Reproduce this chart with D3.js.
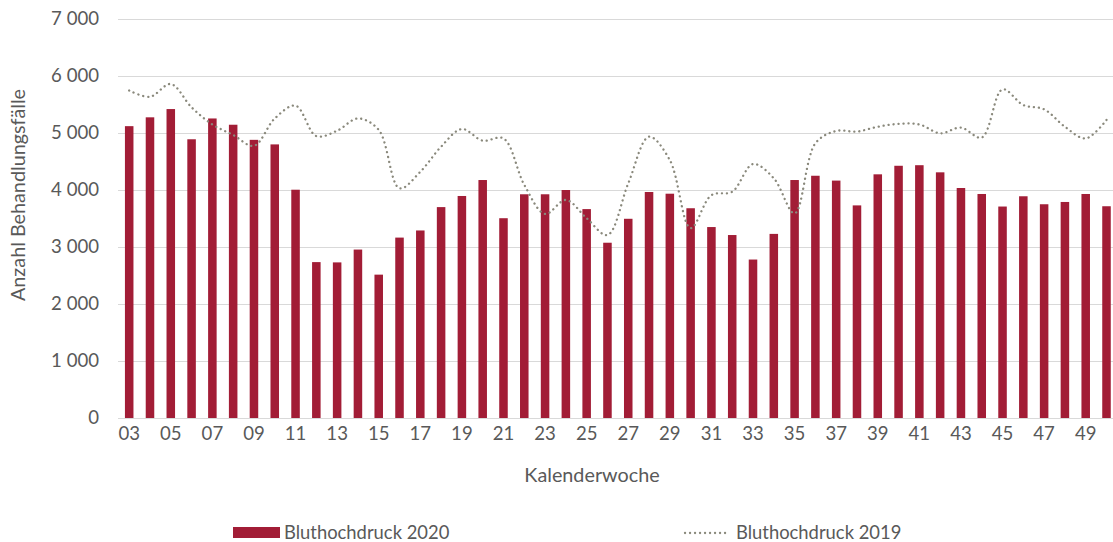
<!DOCTYPE html>
<html>
<head>
<meta charset="utf-8">
<script src="https://cdn.jsdelivr.net/npm/d3@7"></script>
<style>
  body { margin: 0; background: #fff; }
  svg { display: block; }
</style>
</head>
<body>
<svg></svg>
<script>
// Behandlungsfälle Bluthochdruck je Kalenderwoche
var weeks = ["03","04","05","06","07","08","09","10","11","12","13","14","15","16","17","18","19","20","21","22","23","24","25","26",
             "27","28","29","30","31","32","33","34","35","36","37","38","39","40","41","42","43","44","45","46","47","48","49","50"];

var cases2020 = [5120, 5275, 5420, 4890, 5255, 5145, 4880, 4800, 4005, 2735, 2730, 2955, 2515, 3165, 3290, 3700, 3895, 4175, 3505, 3925, 3925, 4000, 3665, 3075,
                 3495, 3965, 3935, 3680, 3350, 3210, 2780, 3230, 4175, 4250, 4165, 3730, 4275, 4425, 4435, 4310, 4035, 3930, 3710, 3890, 3750, 3790, 3930, 3715];

var cases2019 = [5745, 5635, 5860, 5450, 5150, 4965, 4775, 5255, 5480, 4945, 5040, 5255, 5055, 4030, 4320, 4760, 5070, 4865, 4905, 4090, 3580, 3825, 3505, 3210,
                 4115, 4935, 4525, 3330, 3910, 3970, 4455, 4205, 3590, 4820, 5035, 5025, 5110, 5160, 5150, 4995, 5095, 4920, 5765, 5490, 5415, 5110, 4905, 5230];

var yTicks = [0, 1000, 2000, 3000, 4000, 5000, 6000, 7000];
var seriesNames = ["Bluthochdruck 2020", "Bluthochdruck 2019"];

var width = 1113,
    height = 542;
var barColor = "#a21d36",
    lineColor = "#8a897c",
    textColor = "#595959",
    font = "Lato, 'Open Sans', sans-serif";

var svg = d3.select("svg")
    .attr("width", width)
    .attr("height", height);

var x = d3.scaleBand()
    .domain(weeks)
    .range([118.8, 1116.9])
    .paddingInner(0.59)
    .paddingOuter(0.295);

var y = d3.scaleLinear()
    .domain([0, 7000])
    .range([418, 19]);

var fmt = function(v) { return d3.format(",")(v).replace(/,/g, " "); };

// gridlines
svg.append("g")
    .selectAll("line")
    .data(yTicks)
    .enter()
    .append("line")
    .attr("x1", 118)
    .attr("x2", width)
    .attr("y1", d => y(d) + 0.5)
    .attr("y2", d => y(d) + 0.5)
    .attr("stroke", "#d9d9d9")
    .attr("stroke-width", 1);

// y axis labels
var yAxis = svg.append("g")
    .attr("transform", "translate(99,0)")
    .call(d3.axisLeft(y).tickValues(yTicks).tickFormat(fmt).tickSize(0).tickPadding(0));
yAxis.select(".domain").remove();
yAxis.selectAll("text")
    .attr("fill", textColor)
    .attr("font-family", font)
    .attr("font-size", 18.6);

// bars
svg.append("g")
    .selectAll("rect")
    .data(cases2020)
    .enter()
    .append("rect")
    .attr("x", (d, i) => x(weeks[i]))
    .attr("width", x.bandwidth())
    .attr("y", d => y(d))
    .attr("height", d => y(0) - y(d))
    .attr("fill", barColor);

// 2019 line (smoothed, dotted)
var line = d3.line()
    .curve(d3.curveCatmullRom)
    .x((d, i) => x(weeks[i]) + x.bandwidth() / 2)
    .y(d => y(d));

svg.append("path")
    .attr("d", line(cases2019))
    .attr("fill", "none")
    .attr("stroke", lineColor)
    .attr("stroke-width", 2.3)
    .attr("stroke-linecap", "round")
    .attr("stroke-dasharray", "0.1,4.9");

// x axis labels, every other week
var xAxis = svg.append("g")
    .attr("transform", "translate(0,418)")
    .call(d3.axisBottom(x).tickValues(weeks.filter((w, i) => i % 2 === 0)).tickSize(0).tickPadding(9));
xAxis.select(".domain").remove();
xAxis.selectAll("text")
    .attr("fill", textColor)
    .attr("font-family", font)
    .attr("font-size", 18.6);

// axis titles
svg.append("text")
    .attr("transform", "translate(25,195) rotate(-90)")
    .attr("text-anchor", "middle")
    .attr("fill", textColor)
    .attr("font-family", font)
    .attr("font-size", 19.8)
    .text("Anzahl Behandlungsfälle");

svg.append("text")
    .attr("x", 592)
    .attr("y", 482)
    .attr("text-anchor", "middle")
    .attr("fill", textColor)
    .attr("font-family", font)
    .attr("font-size", 19.8)
    .text("Kalenderwoche");

// legend
var legend = svg.append("g");
legend.append("rect")
    .attr("x", 233)
    .attr("y", 527)
    .attr("width", 47)
    .attr("height", 11)
    .attr("fill", barColor);
legend.append("text")
    .attr("x", 284)
    .attr("y", 539)
    .attr("fill", textColor)
    .attr("font-family", font)
    .attr("font-size", 18.4)
    .text(seriesNames[0]);
legend.append("line")
    .attr("x1", 685)
    .attr("x2", 727)
    .attr("y1", 533)
    .attr("y2", 533)
    .attr("stroke", lineColor)
    .attr("stroke-width", 2.3)
    .attr("stroke-linecap", "round")
    .attr("stroke-dasharray", "0.1,4.9");
legend.append("text")
    .attr("x", 736)
    .attr("y", 539)
    .attr("fill", textColor)
    .attr("font-family", font)
    .attr("font-size", 18.4)
    .text(seriesNames[1]);
</script>
</body>
</html>
